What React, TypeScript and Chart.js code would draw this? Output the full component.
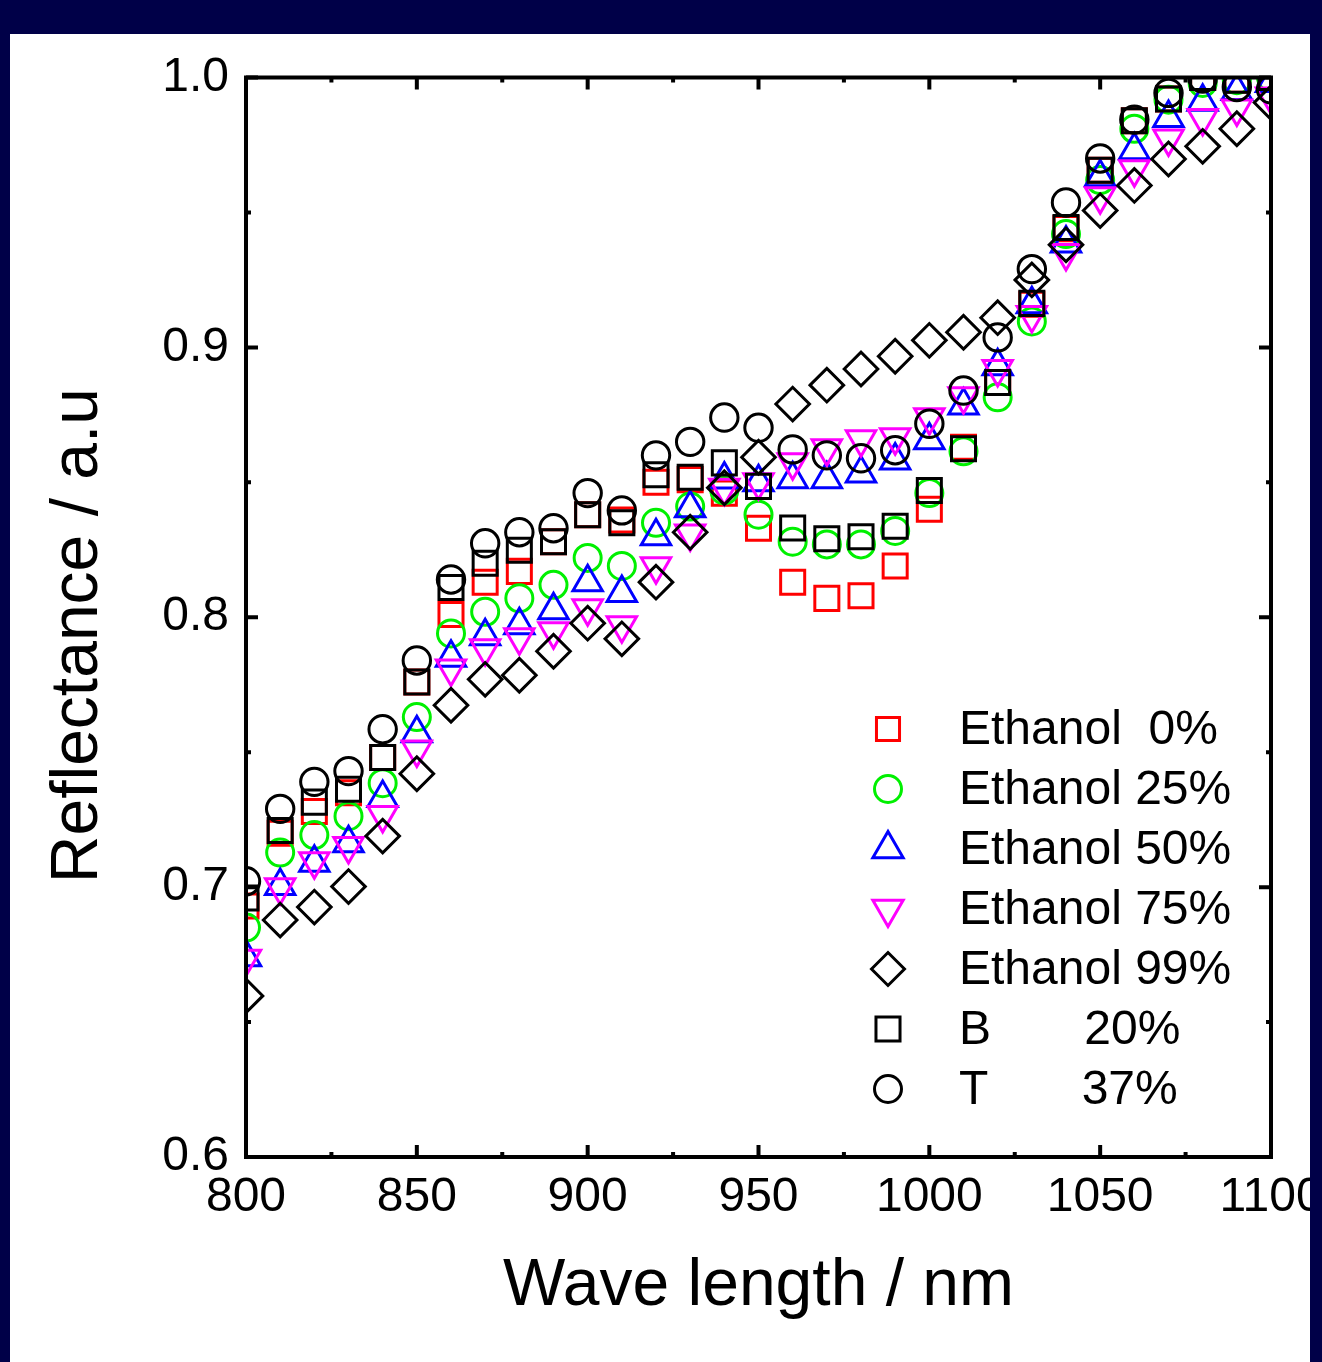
import React, { useEffect, useRef } from 'react';
import { Chart, registerables } from 'chart.js';
import { drawPoint } from 'chart.js/helpers';

Chart.register(...registerables);

// ---------------- data ----------------
const wavelengths = [
  800, 810, 820, 830, 840, 850, 860, 870, 880, 890, 900, 910, 920, 930, 940, 950,
  960, 970, 980, 990, 1000, 1010, 1020, 1030, 1040, 1050, 1060, 1070, 1080, 1090, 1100,
];

const ethanol0 = [
  0.693, 0.720, 0.728, 0.735, 0.748, 0.776, 0.801, 0.813, 0.817, 0.828, 0.838, 0.836, 0.850, 0.851, 0.846, 0.833,
  0.813, 0.807, 0.808, 0.819, 0.840, 0.863, 0.887, 0.916, 0.944, 0.9656, 0.984, 0.992, 1.0, 0.999, 1.0,
];
const ethanol25 = [
  0.685, 0.7128, 0.7193, 0.7263, 0.7385, 0.763, 0.794, 0.802, 0.807, 0.812, 0.822, 0.819, 0.835, 0.841, 0.847, 0.838,
  0.828, 0.827, 0.827, 0.832, 0.846, 0.8615, 0.8815, 0.9096, 0.942, 0.962, 0.981, 0.9918, 0.998, 0.999, 1.0,
];
const ethanol50 = [
  0.674, 0.7004, 0.709, 0.7163, 0.733, 0.757, 0.785, 0.793, 0.797, 0.8026, 0.813, 0.809, 0.830, 0.8404, 0.851, 0.850,
  0.8511, 0.8511, 0.8533, 0.8581, 0.8656, 0.8785, 0.893, 0.916, 0.9385, 0.963, 0.973, 0.985, 0.991, 0.995, 0.998,
];
const ethanol75 = [
  0.6735, 0.700, 0.7096, 0.7152, 0.7267, 0.751, 0.781, 0.7885, 0.7926, 0.7948, 0.8033, 0.797, 0.8189, 0.831, 0.848, 0.850,
  0.8574, 0.8626, 0.866, 0.8667, 0.8741, 0.8819, 0.892, 0.912, 0.935, 0.956, 0.966, 0.9774, 0.985, 0.9885, 0.993,
];
const ethanol99 = [
  0.6597, 0.6878, 0.6926, 0.7002, 0.7189, 0.742, 0.7674, 0.777, 0.7785, 0.7874, 0.7978, 0.792, 0.813, 0.8315, 0.848, 0.8593,
  0.879, 0.886, 0.892, 0.8967, 0.9026, 0.9056, 0.911, 0.925, 0.938, 0.9507, 0.960, 0.9698, 0.9745, 0.981, 0.9907,
];
const seriesB = [
  0.696, 0.721, 0.7315, 0.7363, 0.748, 0.776, 0.811, 0.820, 0.8248, 0.828, 0.838, 0.835, 0.8528, 0.8519, 0.8572, 0.8485,
  0.8331, 0.8291, 0.8298, 0.8337, 0.847, 0.8624, 0.887, 0.9163, 0.9444, 0.9656, 0.984, 0.992, 1.0, 0.999, 1.0,
];
const seriesT = [
  0.7022, 0.729, 0.739, 0.743, 0.7585, 0.784, 0.814, 0.8274, 0.8315, 0.833, 0.846, 0.8396, 0.860, 0.865, 0.874, 0.8702,
  0.8622, 0.860, 0.8589, 0.8619, 0.8717, 0.884, 0.9037, 0.929, 0.9537, 0.970, 0.9844, 0.9943, 0.9996, 0.9965, 0.9956,
];

const seriesLabels = [
  'Ethanol  0%',
  'Ethanol 25%',
  'Ethanol 50%',
  'Ethanol 75%',
  'Ethanol 99%',
  'B       20%',
  'T       37%',
];
const seriesValues = [ethanol0, ethanol25, ethanol50, ethanol75, ethanol99, seriesB, seriesT];

const xTitle = 'Wave length / nm';
const yTitle = 'Reflectance / a.u  ';

// ---------------- styles ----------------
const FONT = "'Liberation Sans', Arial, Helvetica, sans-serif";
const MARKER_LINE = 3;
const seriesStyles = [
  { color: '#ff0000', style: 'rect', radius: 17, rotation: 0 },
  { color: '#00f000', style: 'circle', radius: 13.5, rotation: 0 },
  { color: '#0000ff', style: 'triangle', radius: 17, rotation: 0 },
  { color: '#ff00ff', style: 'triangle', radius: 17, rotation: 180 },
  { color: '#000000', style: 'rectRot', radius: 16.8, rotation: 0 },
  { color: '#000000', style: 'rect', radius: 17, rotation: 0 },
  { color: '#000000', style: 'circle', radius: 13.7, rotation: 0 },
];
const legendRadius = [16.3, 13.5, 17.5, 17.5, 16.5, 17, 13.5];

const frameTicksPlugin = {
  id: 'frameTicks',
  afterDatasetsDraw(chart: any) {
    const { ctx, chartArea } = chart;
    const xs = chart.scales.x;
    const ys = chart.scales.y;
    const { left, right, top, bottom } = chartArea;
    const major = 12;
    const minor = 5;
    ctx.save();
    ctx.strokeStyle = '#000';
    ctx.lineWidth = 4;
    ctx.lineCap = 'butt';
    ctx.beginPath();
    for (let v = 800; v <= 1100 + 1e-6; v += 25) {
      const isMajor = Math.round(v) % 50 === 0;
      const len = isMajor ? major : minor;
      const px = xs.getPixelForValue(v);
      ctx.moveTo(px, bottom);
      ctx.lineTo(px, bottom - len);
      ctx.moveTo(px, top);
      ctx.lineTo(px, top + len);
    }
    for (let i = 0; i <= 8; i++) {
      const v = 0.6 + i * 0.05;
      const isMajor = i % 2 === 0;
      const len = isMajor ? major : minor;
      const py = ys.getPixelForValue(v);
      ctx.moveTo(left, py);
      ctx.lineTo(left + len, py);
      ctx.moveTo(right, py);
      ctx.lineTo(right - len, py);
    }
    ctx.stroke();
    ctx.lineJoin = 'miter';
    ctx.strokeRect(left, top, right - left, bottom - top);
    ctx.restore();
  },
  afterDraw(chart: any) {
    const { ctx } = chart;
    const markerX = 878;
    const textX = 949;
    const firstY = 695;
    const step = 60;
    ctx.save();
    ctx.font = `48px ${FONT}`;
    ctx.textAlign = 'left';
    ctx.textBaseline = 'middle';
    seriesLabels.forEach((label, i) => {
      const st = seriesStyles[i];
      const y = firstY + i * step;
      ctx.strokeStyle = st.color;
      ctx.fillStyle = 'rgba(0,0,0,0)';
      ctx.lineWidth = MARKER_LINE;
      drawPoint(ctx, {
        pointStyle: st.style,
        rotation: st.rotation,
        radius: legendRadius[i],
        borderWidth: MARKER_LINE,
      } as any, markerX, y);
      ctx.fillStyle = '#000';
      ctx.fillText(label, textX, y + 2);
    });
    ctx.restore();
  },
};

export default function App() {
  const canvasRef = useRef<HTMLCanvasElement | null>(null);

  useEffect(() => {
    const canvas = canvasRef.current;
    if (!canvas) return;
    const n = seriesValues.length;
    const datasets = seriesValues.map((vals, i) => ({
      label: seriesLabels[i],
      data: wavelengths.map((w, j) => ({ x: w, y: vals[j] })),
      order: n - 1 - i,
      showLine: false,
      pointStyle: seriesStyles[i].style as any,
      pointRotation: seriesStyles[i].rotation,
      pointRadius: seriesStyles[i].radius,
      pointHoverRadius: seriesStyles[i].radius,
      pointBorderWidth: MARKER_LINE,
      borderWidth: MARKER_LINE,
      pointBorderColor: seriesStyles[i].color,
      borderColor: seriesStyles[i].color,
      pointBackgroundColor: 'rgba(0,0,0,0)',
      backgroundColor: 'rgba(0,0,0,0)',
      clip: 0,
    }));

    const chart = new Chart(canvas, {
      type: 'scatter',
      data: { datasets },
      options: {
        animation: false,
        responsive: false,
        devicePixelRatio: 1,
        events: [],
        layout: { padding: { left: 0, top: 43.5, right: 39, bottom: 0 } },
        plugins: {
          legend: { display: false },
          tooltip: { enabled: false },
        },
        scales: {
          x: {
            type: 'linear',
            min: 800,
            max: 1100,
            grid: { display: false, drawTicks: false },
            border: { display: false },
            ticks: {
              stepSize: 50,
              color: '#000',
              padding: 12,
              maxRotation: 0,
              autoSkip: false,
              font: { family: FONT, size: 48 },
              callback: (v: any) => String(Math.round(Number(v))),
            },
            title: {
              display: true,
              text: xTitle,
              color: '#000',
              font: { family: FONT, size: 66 },
              padding: { top: 0, bottom: 36 },
            },
            afterFit(scale: any) {
              scale.height = 205;
              scale.paddingLeft = 0;
              scale.paddingRight = 0;
            },
          },
          y: {
            type: 'linear',
            min: 0.6,
            max: 1.0,
            grid: { display: false, drawTicks: false },
            border: { display: false },
            ticks: {
              stepSize: 0.1,
              color: '#000',
              padding: 17,
              font: { family: FONT, size: 48 },
              callback: (v: any) => Number(v).toFixed(1),
            },
            title: {
              display: true,
              text: yTitle,
              color: '#000',
              font: { family: FONT, size: 66 },
              padding: { top: 29, bottom: 0 },
            },
            afterFit(scale: any) {
              scale.width = 236;
              scale.paddingTop = 0;
              scale.paddingBottom = 0;
            },
          },
        },
      },
      plugins: [frameTicksPlugin],
    } as any);

    return () => chart.destroy();
  }, []);

  return (
    <div
      style={{
        position: 'fixed',
        left: 0,
        top: 0,
        width: 1322,
        height: 1362,
        background: '#000048',
        overflow: 'hidden',
      }}
    >
      <div
        style={{
          position: 'absolute',
          left: 10,
          top: 34,
          width: 1300,
          height: 1328,
          background: '#ffffff',
        }}
      >
        <canvas ref={canvasRef} width={1300} height={1328} style={{ display: 'block' }} />
      </div>
    </div>
  );
}
